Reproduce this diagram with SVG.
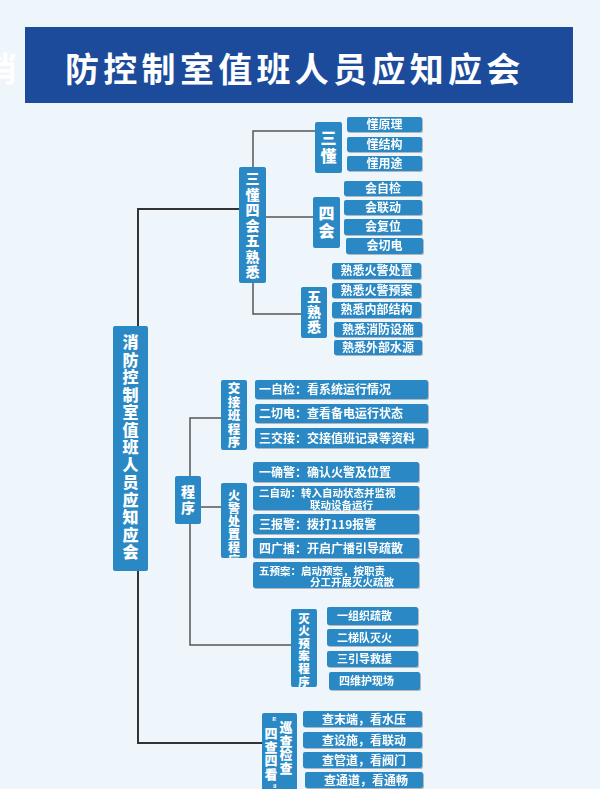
<svg xmlns="http://www.w3.org/2000/svg" width="600" height="789" viewBox="0 0 600 789">
<defs>
<style>
.n{fill:#2a89c4}
.it{fill:#2a89c4}
.t{fill:#fff;font-family:"Noto Sans CJK SC","Noto Sans",sans-serif;font-weight:bold}
.v{fill:#fff;font-family:"Noto Sans CJK SC","Noto Sans",sans-serif;font-weight:900;writing-mode:vertical-rl;text-orientation:upright}
.c{text-anchor:middle}
.m{fill:none;stroke:#333;stroke-width:2}
.s{fill:none;stroke:#555;stroke-width:1.5}
</style>
<filter id="sh" x="-10%" y="-20%" width="130%" height="160%">
<feDropShadow dx="1" dy="1" stdDeviation="0.7" flood-color="#000" flood-opacity="0.25"/>
</filter>
<clipPath id="cp1"><rect x="221" y="483" width="26" height="75"/></clipPath>
</defs>
<rect x="0" y="0" width="600" height="789" fill="#eef6fc"/>
<text x="-17" y="82" class="t" font-size="34">消</text>
<g id="title">
<rect x="25" y="27" width="548" height="76" fill="#1c4b9b"/>
<text x="65" y="82" class="t" font-size="34" letter-spacing="4.3">防控制室值班人员应知应会</text>
</g>

<g id="connectors">
<polyline class="m" points="239,209 138,209 138,743 262,743"/>
<polyline class="s" points="315,131 253,131 253,167"/>
<line class="s" x1="266" y1="217" x2="313" y2="217"/>
<polyline class="s" points="253,283 253,314 301,314"/>
<polyline class="s" points="221,418 190,418 190,645 291,645"/>
<line class="s" x1="201" y1="507" x2="221" y2="507"/>
</g>

<g id="main">
<rect class="n" x="113" y="326" width="35" height="245" rx="2"/>
<text class="v" font-size="16" letter-spacing="1.5" x="130.5" y="334">消防控制室值班人员应知应会</text>
</g>

<g id="sdsh">
<rect class="n" x="239" y="167" width="27" height="116" rx="2"/>
<text class="v" font-size="14" letter-spacing="1.5" x="252.5" y="171.7">三懂四会五熟悉</text>
</g>

<g id="sandong">
<rect class="n" x="315" y="122" width="27" height="51" rx="2"/>
<text class="v" font-size="16" letter-spacing="2" x="328.5" y="130">三懂</text>
</g>
<g id="sandong-items" filter="url(#sh)">
<rect class="it" x="347" y="117" width="75" height="15" rx="2"/>
<rect class="it" x="347" y="137" width="75" height="15" rx="2"/>
<rect class="it" x="347" y="156" width="75" height="15" rx="2"/>
<text class="t c" font-size="12" x="384.5" y="128.8">懂原理</text>
<text class="t c" font-size="12" x="384.5" y="148.8">懂结构</text>
<text class="t c" font-size="12" x="384.5" y="167.8">懂用途</text>
</g>

<g id="sihui">
<rect class="n" x="313" y="197" width="27" height="51" rx="2"/>
<text class="v" font-size="16" letter-spacing="2" x="326.5" y="205">四会</text>
</g>
<g id="sihui-items" filter="url(#sh)">
<rect class="it" x="344" y="181" width="78" height="15" rx="2"/>
<rect class="it" x="344" y="200" width="78" height="15" rx="2"/>
<rect class="it" x="344" y="219" width="78" height="16" rx="2"/>
<rect class="it" x="346" y="238" width="77" height="16" rx="2"/>
<text class="t c" font-size="12" x="383" y="192.8">会自检</text>
<text class="t c" font-size="12" x="383" y="211.8">会联动</text>
<text class="t c" font-size="12" x="383" y="231.3">会复位</text>
<text class="t c" font-size="12" x="384.5" y="250.3">会切电</text>
</g>

<g id="wushuxi">
<rect class="n" x="301" y="287" width="26" height="51" rx="2"/>
<text class="v" font-size="14" letter-spacing="1" x="314" y="289.7">五熟悉</text>
</g>
<g id="wushuxi-items" filter="url(#sh)">
<rect class="it" x="332" y="263" width="89" height="16" rx="2"/>
<rect class="it" x="332" y="283" width="89" height="15" rx="2"/>
<rect class="it" x="332" y="302" width="89" height="16" rx="2"/>
<rect class="it" x="334" y="322" width="88" height="15" rx="2"/>
<rect class="it" x="334" y="340" width="88" height="15" rx="2"/>
<text class="t c" font-size="12" x="376.5" y="275.3">熟悉火警处置</text>
<text class="t c" font-size="12" x="376.5" y="294.8">熟悉火警预案</text>
<text class="t c" font-size="12" x="376.5" y="314.3">熟悉内部结构</text>
<text class="t c" font-size="12" x="378" y="333.8">熟悉消防设施</text>
<text class="t c" font-size="12" x="378" y="351.8">熟悉外部水源</text>
</g>

<g id="chengxu">
<rect class="n" x="175" y="476" width="26" height="48" rx="2"/>
<text class="v" font-size="14" letter-spacing="2" x="188" y="484.7">程序</text>
</g>

<g id="jiaojieban">
<rect class="n" x="221" y="380" width="26" height="70" rx="2"/>
<text class="v" font-size="12.5" letter-spacing="1" x="234" y="382">交接班程序</text>
</g>
<g id="jiaojieban-items" filter="url(#sh)">
<rect class="it" x="255" y="380" width="173" height="19" rx="2"/>
<rect class="it" x="255" y="404" width="173" height="19" rx="2"/>
<rect class="it" x="255" y="428" width="173" height="20" rx="2"/>
<text class="t" font-size="12" x="259" y="394">一自检：看系统运行情况</text>
<text class="t" font-size="12" x="259" y="418">二切电：查看备电运行状态</text>
<text class="t" font-size="12" x="259" y="442.5">三交接：交接值班记录等资料</text>
</g>

<g id="huojing">
<rect class="n" x="221" y="483" width="26" height="75" rx="2"/>
<text class="v" font-size="12" letter-spacing="1" x="234" y="489.4" clip-path="url(#cp1)">火警处置程序</text>
</g>
<g id="huojing-items" filter="url(#sh)">
<rect class="it" x="253" y="462" width="166" height="20" rx="2"/>
<rect class="it" x="253" y="486" width="166" height="24" rx="2"/>
<rect class="it" x="253" y="514" width="166" height="20" rx="2"/>
<rect class="it" x="253" y="538" width="166" height="20" rx="2"/>
<rect class="it" x="253" y="562" width="166" height="26" rx="2"/>
<text class="t" font-size="12" x="259" y="476.5">一确警：确认火警及位置</text>
<text class="t" font-size="10.5"><tspan x="259" y="497">二自动：转入自动状态并监视</tspan><tspan x="310" y="508.5">联动设备运行</tspan></text>
<text class="t" font-size="12" x="259" y="528.5">三报警：拨打119报警</text>
<text class="t" font-size="12" x="259" y="552.5">四广播：开启广播引导疏散</text>
<text class="t" font-size="10.5"><tspan x="259" y="574.5">五预案：启动预案，按职责</tspan><tspan x="310" y="586">分工开展灭火疏散</tspan></text>
</g>

<g id="miehuo">
<rect class="n" x="291" y="609" width="26" height="78" rx="2"/>
<text class="v" font-size="11.5" letter-spacing="1.1" x="304" y="612.4">灭火预案程序</text>
</g>
<g id="miehuo-items" filter="url(#sh)">
<rect class="it" x="327" y="607" width="91" height="18" rx="2"/>
<rect class="it" x="327" y="629" width="91" height="17" rx="2"/>
<rect class="it" x="327" y="651" width="91" height="16" rx="2"/>
<rect class="it" x="329" y="672" width="91" height="18" rx="2"/>
<text class="t" font-size="11" x="337" y="620">一组织疏散</text>
<text class="t" font-size="11" x="337" y="641.5">二梯队灭火</text>
<text class="t" font-size="11" x="337" y="663">三引导救援</text>
<text class="t" font-size="11" x="339" y="685">四维护现场</text>
</g>

<g id="xuncha">
<rect class="n" x="262" y="713" width="35" height="80" rx="2"/>
<text class="v" font-size="13" letter-spacing="0.7" x="286" y="720.6">巡查检查</text>
<text class="v" font-size="13" letter-spacing="0.5" x="271" y="726.6">四查四看</text>
<text class="t" font-size="10" transform="translate(271,719) rotate(90)" text-anchor="middle" dominant-baseline="central" style="font-family:'Liberation Sans',sans-serif">“</text>
<text class="t" font-size="10" transform="translate(271,786) rotate(90)" text-anchor="middle" dominant-baseline="central" style="font-family:'Liberation Sans',sans-serif">”</text>
</g>
<g id="xuncha-items" filter="url(#sh)">
<rect class="it" x="303" y="711" width="119" height="16" rx="2"/>
<rect class="it" x="303" y="732" width="119" height="16" rx="2"/>
<rect class="it" x="303" y="752" width="119" height="16" rx="2"/>
<rect class="it" x="305" y="772" width="118" height="16" rx="2"/>
<text class="t c" font-size="12" x="364" y="723.5">查末端，看水压</text>
<text class="t c" font-size="12" x="364" y="744.5">查设施，看联动</text>
<text class="t c" font-size="12" x="364" y="764.5">查管道，看阀门</text>
<text class="t c" font-size="12" x="366" y="784.5">查通道，看通畅</text>
</g>
</svg>
